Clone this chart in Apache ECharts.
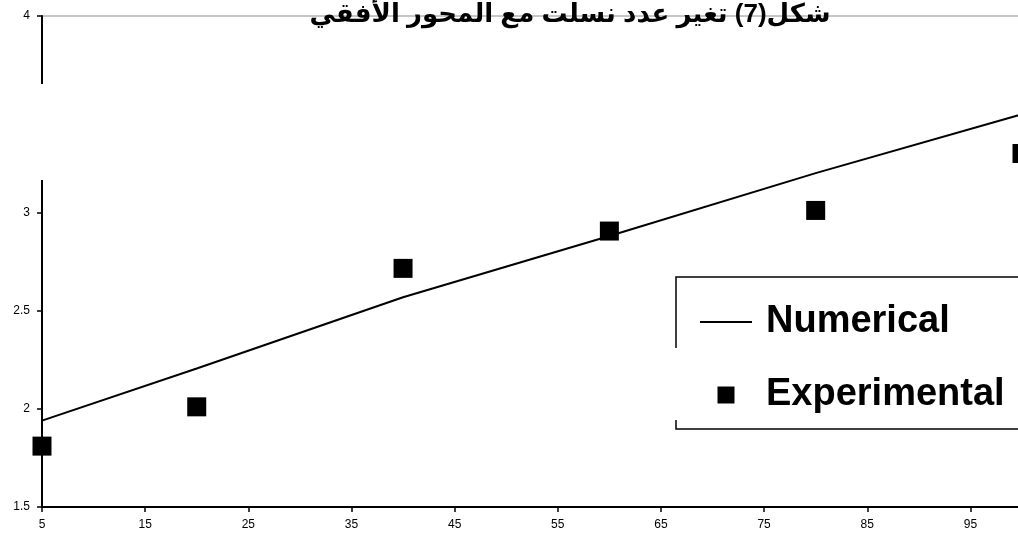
<!DOCTYPE html>
<html>
<head>
<meta charset="utf-8">
<title>Chart</title>
<script src="https://cdn.jsdelivr.net/npm/echarts@6/dist/echarts.min.js"></script>
<style>
  html, body { margin: 0; padding: 0; background: #fff; overflow: hidden; }
  /* the plot runs a little past the right edge of the window */
  #chart { width: 1040px; height: 537px; }
</style>
</head>
<body>
<div id="chart"></div>
<script>
// Horizontal positions (x) and the two measured series
const positions = [5, 20, 40, 60, 80, 100];
const numerical = [1.94, 2.205, 2.568, 2.88, 3.2, 3.5];
const experimental = [1.81, 2.01, 2.715, 2.905, 3.01, 3.3];
const titleText = 'شكل(7) تغير عدد نسلت مع المحور الأفقي';
const seriesNames = ['Numerical', 'Experimental'];

const pair = (xs, ys) => xs.map((x, i) => [x, ys[i]]);

const chart = echarts.init(document.getElementById('chart'), null, { renderer: 'canvas' });

const font = 'Arial, "Liberation Sans", "DejaVu Sans", sans-serif';

chart.setOption({
  backgroundColor: '#ffffff',
  animation: false,
  title: {
    text: titleText,
    left: 565,
    textAlign: 'center',
    top: -3,
    textStyle: { fontFamily: font, fontSize: 26, fontWeight: 'bold', color: '#000' }
  },
  grid: {
    left: 42, top: 16, width: 980, height: 491,
    show: true, borderColor: '#8c8c8c', borderWidth: 1, backgroundColor: 'transparent'
  },
  xAxis: {
    type: 'value', min: 5, max: 100, interval: 10,
    axisLine: { show: true, lineStyle: { color: '#000', width: 2 } },
    axisTick: { show: true, length: 5, lineStyle: { color: '#000', width: 1.5 } },
    axisLabel: { color: '#000', fontFamily: font, fontSize: 12, margin: 12, showMaxLabel: false },
    splitLine: { show: false }
  },
  yAxis: {
    type: 'value', min: 1.5, max: 4, interval: 0.5,
    axisLine: { show: true, lineStyle: { color: '#000', width: 2 } },
    axisTick: { show: true, length: 5, lineStyle: { color: '#000', width: 1.5 } },
    axisLabel: { color: '#000', fontFamily: font, fontSize: 12, margin: 12 },
    splitLine: { show: false }
  },
  legend: {
    orient: 'vertical',
    left: 676, top: 277,
    padding: [26, 40, 15, 24],
    itemWidth: 52, itemHeight: 17, itemGap: 35,
    symbolKeepAspect: true,
    borderColor: '#000', borderWidth: 1.5,
    textStyle: { fontFamily: font, fontSize: 38, fontWeight: 'bold', color: '#000', padding: [0, 0, 0, 9] },
    data: [
      { name: seriesNames[0], icon: 'path://M0,0 L52,0 L52,2 L0,2 Z' },
      { name: seriesNames[1], icon: 'path://M0,0 L17,0 L17,17 L0,17 Z' }
    ]
  },
  series: [
    {
      name: seriesNames[0], type: 'line', data: pair(positions, numerical),
      symbol: 'none', lineStyle: { color: '#000', width: 2 }, itemStyle: { color: '#000' }, z: 2
    },
    {
      name: seriesNames[1], type: 'scatter', data: pair(positions, experimental),
      symbol: 'rect', symbolSize: 19, itemStyle: { color: '#000', opacity: 1 }, z: 3
    }
  ],
  graphic: [
    // breaks in the vertical axis line and the legend frame
    { type: 'rect', shape: { x: 0, y: 84, width: 47, height: 96 }, style: { fill: '#fff' }, z: 100 },
    { type: 'rect', shape: { x: 670, y: 348, width: 12, height: 72 }, style: { fill: '#fff' }, z: 100 }
  ]
});
</script>
</body>
</html>
